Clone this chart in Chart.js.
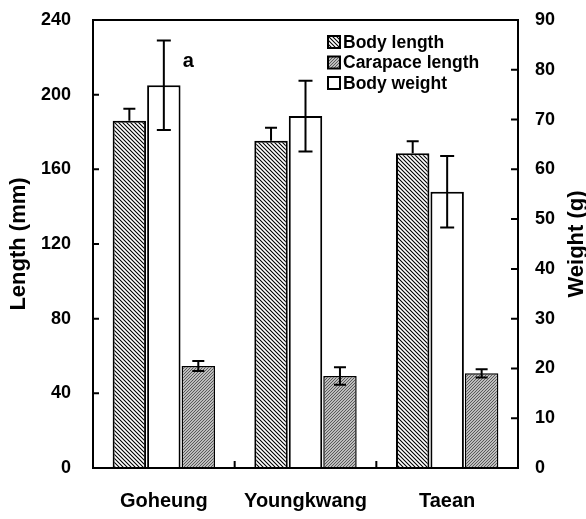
<!DOCTYPE html>
<html>
<head>
<meta charset="utf-8">
<script src="https://cdn.jsdelivr.net/npm/chart.js@4.4.1/dist/chart.umd.min.js"></script>
<style>
html,body{margin:0;padding:0;background:#fff;overflow:hidden;}
#wrap{position:relative;width:586px;height:519px;}
</style>
</head>
<body>
<div id="wrap"><canvas id="c"></canvas></div>
<script>
// ---- data ----
const categories = ['Goheung', 'Youngkwang', 'Taean'];
const bodyLength = [186, 175.3, 168.6];
const bodyLengthErr = [6.5, 7, 6.5];
const bodyWeight = [76.9, 70.7, 55.5];
const bodyWeightErr = [9, 7.1, 7.2];
const carapaceLength = [54.6, 49.3, 50.7];
const carapaceErr = [2.7, 4.7, 2.2];
const leftTicks = [0, 40, 80, 120, 160, 200, 240];
const rightTicks = [0, 10, 20, 30, 40, 50, 60, 70, 80, 90];
const leftTitle = 'Length (mm)';
const rightTitle = 'Weight (g)';
const seriesLabels = ['Body length', 'Body weight', 'Carapace length'];
const legendOrder = [0, 2, 1];
const annotationText = 'a';

const FONT = '"Liberation Sans", Arial, Helvetica, sans-serif';

function hatchPattern() {
  const n = 4;
  const c = document.createElement('canvas');
  c.width = n; c.height = n;
  const x = c.getContext('2d');
  x.fillStyle = '#fff'; x.fillRect(0, 0, n, n);
  x.strokeStyle = '#000'; x.lineWidth = 1.1;
  x.beginPath();
  x.moveTo(-1, -1); x.lineTo(n + 1, n + 1);
  x.moveTo(-1, n - 1); x.lineTo(1, n + 1);
  x.moveTo(n - 1, -1); x.lineTo(n + 1, 1);
  x.stroke();
  return x.createPattern(c, 'repeat');
}
function grayPattern() {
  const c = document.createElement('canvas');
  c.width = 3; c.height = 3;
  const x = c.getContext('2d');
  x.fillStyle = '#bdbdbd'; x.fillRect(0, 0, 3, 3);
  x.fillStyle = '#5a5a5a';
  x.fillRect(2, 0, 1, 1); x.fillRect(1, 1, 1, 1); x.fillRect(0, 2, 1, 1);
  return x.createPattern(c, 'repeat');
}
const pHatch = hatchPattern();
const pGray = grayPattern();

const errorData = [bodyLengthErr, bodyWeightErr, carapaceErr];
const errorDir = ['up', 'both', 'both'];
const capHalf = [6, 7, 6];

const decor = {
  id: 'decor',
  afterDatasetsDraw(chart) {
    const ctx = chart.ctx;
    const a = chart.chartArea;
    ctx.save();
    // error bars
    ctx.strokeStyle = '#000';
    ctx.lineWidth = 2;
    chart.data.datasets.forEach((ds, i) => {
      const meta = chart.getDatasetMeta(i);
      const sc = chart.scales[ds.yAxisID];
      meta.data.forEach((bar, j) => {
        const v = ds.data[j], e = errorData[i][j];
        const yt = sc.getPixelForValue(v + e);
        const yb = errorDir[i] === 'both' ? sc.getPixelForValue(v - e) : bar.y;
        ctx.beginPath();
        ctx.moveTo(bar.x, yt); ctx.lineTo(bar.x, yb);
        ctx.moveTo(bar.x - capHalf[i], yt); ctx.lineTo(bar.x + capHalf[i], yt);
        if (errorDir[i] === 'both') { ctx.moveTo(bar.x - capHalf[i], yb); ctx.lineTo(bar.x + capHalf[i], yb); }
        ctx.stroke();
      });
    });
    // annotation 'a' next to Goheung body weight
    {
      const meta = chart.getDatasetMeta(1);
      const bar = meta.data[0];
      const yt = chart.scales.y1.getPixelForValue(bodyWeight[0] + bodyWeightErr[0]);
      ctx.fillStyle = '#000';
      ctx.font = 'bold 20px ' + FONT;
      ctx.textAlign = 'left'; ctx.textBaseline = 'middle';
      ctx.fillText(annotationText, bar.x + 19, yt + 21);
    }
    // frame
    ctx.lineWidth = 2;
    ctx.strokeStyle = '#000';
    ctx.strokeRect(a.left, a.top, a.right - a.left, a.bottom - a.top);
    // inward ticks
    ctx.beginPath();
    const ys = chart.scales.y, y1 = chart.scales.y1, xs = chart.scales.x;
    leftTicks.forEach(t => { const p = ys.getPixelForValue(t); ctx.moveTo(a.left, p); ctx.lineTo(a.left + 6, p); });
    rightTicks.forEach(t => { const p = y1.getPixelForValue(t); ctx.moveTo(a.right, p); ctx.lineTo(a.right - 7, p); });
    for (let k = 1; k < categories.length; k++) {
      const p = (xs.getPixelForValue(k - 1) + xs.getPixelForValue(k)) / 2;
      ctx.moveTo(p, a.bottom); ctx.lineTo(p, a.bottom - 7);
    }
    ctx.stroke();
    // right title (bottom-to-top)
    ctx.save();
    ctx.translate(577, (a.top + a.bottom) / 2);
    ctx.rotate(-Math.PI / 2);
    ctx.fillStyle = '#000';
    ctx.font = 'bold 22px ' + FONT;
    ctx.textAlign = 'center'; ctx.textBaseline = 'middle';
    ctx.fillText(rightTitle, 0, 0);
    ctx.restore();
    // legend
    const items = legendOrder.map(i => chart.data.datasets[i]);
    ctx.font = 'bold 17.5px ' + FONT;
    ctx.textAlign = 'left'; ctx.textBaseline = 'middle';
    const lx = a.left + 235, ly = a.top + 22, step = 20.5;
    items.forEach((ds, k) => {
      const cy = ly + k * step;
      ctx.fillStyle = ds.backgroundColor;
      ctx.fillRect(lx, cy - 6, 12, 12);
      ctx.lineWidth = 2; ctx.strokeStyle = '#000';
      ctx.strokeRect(lx, cy - 6, 12, 12);
      ctx.fillStyle = '#000';
      ctx.fillText(ds.label, lx + 15, cy + 1);
    });
    ctx.restore();
  }
};

function fixV(w) {
  return function (s) { s.width = w; s.paddingTop = 0; s.paddingBottom = 0; };
}

new Chart(document.getElementById('c'), {
  type: 'bar',
  data: {
    labels: categories,
    datasets: [
      { label: seriesLabels[0], data: bodyLength, yAxisID: 'y', backgroundColor: pHatch, borderColor: '#000', borderWidth: 2 },
      { label: seriesLabels[1], data: bodyWeight, yAxisID: 'y1', backgroundColor: '#fff', borderColor: '#000', borderWidth: 2 },
      { label: seriesLabels[2], data: carapaceLength, yAxisID: 'y', backgroundColor: pGray, borderColor: '#000', borderWidth: 1.5 }
    ]
  },
  options: {
    responsive: true,
    maintainAspectRatio: false,
    animation: false,
    datasets: { bar: { categoryPercentage: 0.73, barPercentage: 0.97 } },
    layout: { padding: { top: 20, left: 0, right: 0, bottom: 0 } },
    plugins: { legend: { display: false }, tooltip: { enabled: false } },
    scales: {
      x: {
        grid: { display: false, drawTicks: false },
        border: { display: false },
        ticks: { color: '#000', padding: 21, font: { family: FONT, size: 20, weight: 'bold' } },
        afterFit(s) { s.height = 51; s.paddingLeft = 0; s.paddingRight = 0; }
      },
      y: {
        position: 'left',
        min: 0, max: 240,
        afterBuildTicks(s) { s.ticks = leftTicks.map(v => ({ value: v })); },
        grid: { display: false, drawTicks: false },
        border: { display: false },
        ticks: { color: '#000', padding: 22, font: { family: FONT, size: 18, weight: 'bold' } },
        title: { display: true, text: leftTitle, color: '#000', padding: { top: 6, bottom: 0 }, font: { family: FONT, size: 22, weight: 'bold' } },
        afterFit: fixV(93)
      },
      y1: {
        position: 'right',
        min: 0, max: 90,
        afterBuildTicks(s) { s.ticks = rightTicks.map(v => ({ value: v })); },
        grid: { display: false, drawTicks: false },
        border: { display: false },
        ticks: { color: '#000', padding: 17, font: { family: FONT, size: 18, weight: 'bold' } },
        afterFit: fixV(68)
      }
    }
  },
  plugins: [decor]
});
</script>
</body>
</html>
